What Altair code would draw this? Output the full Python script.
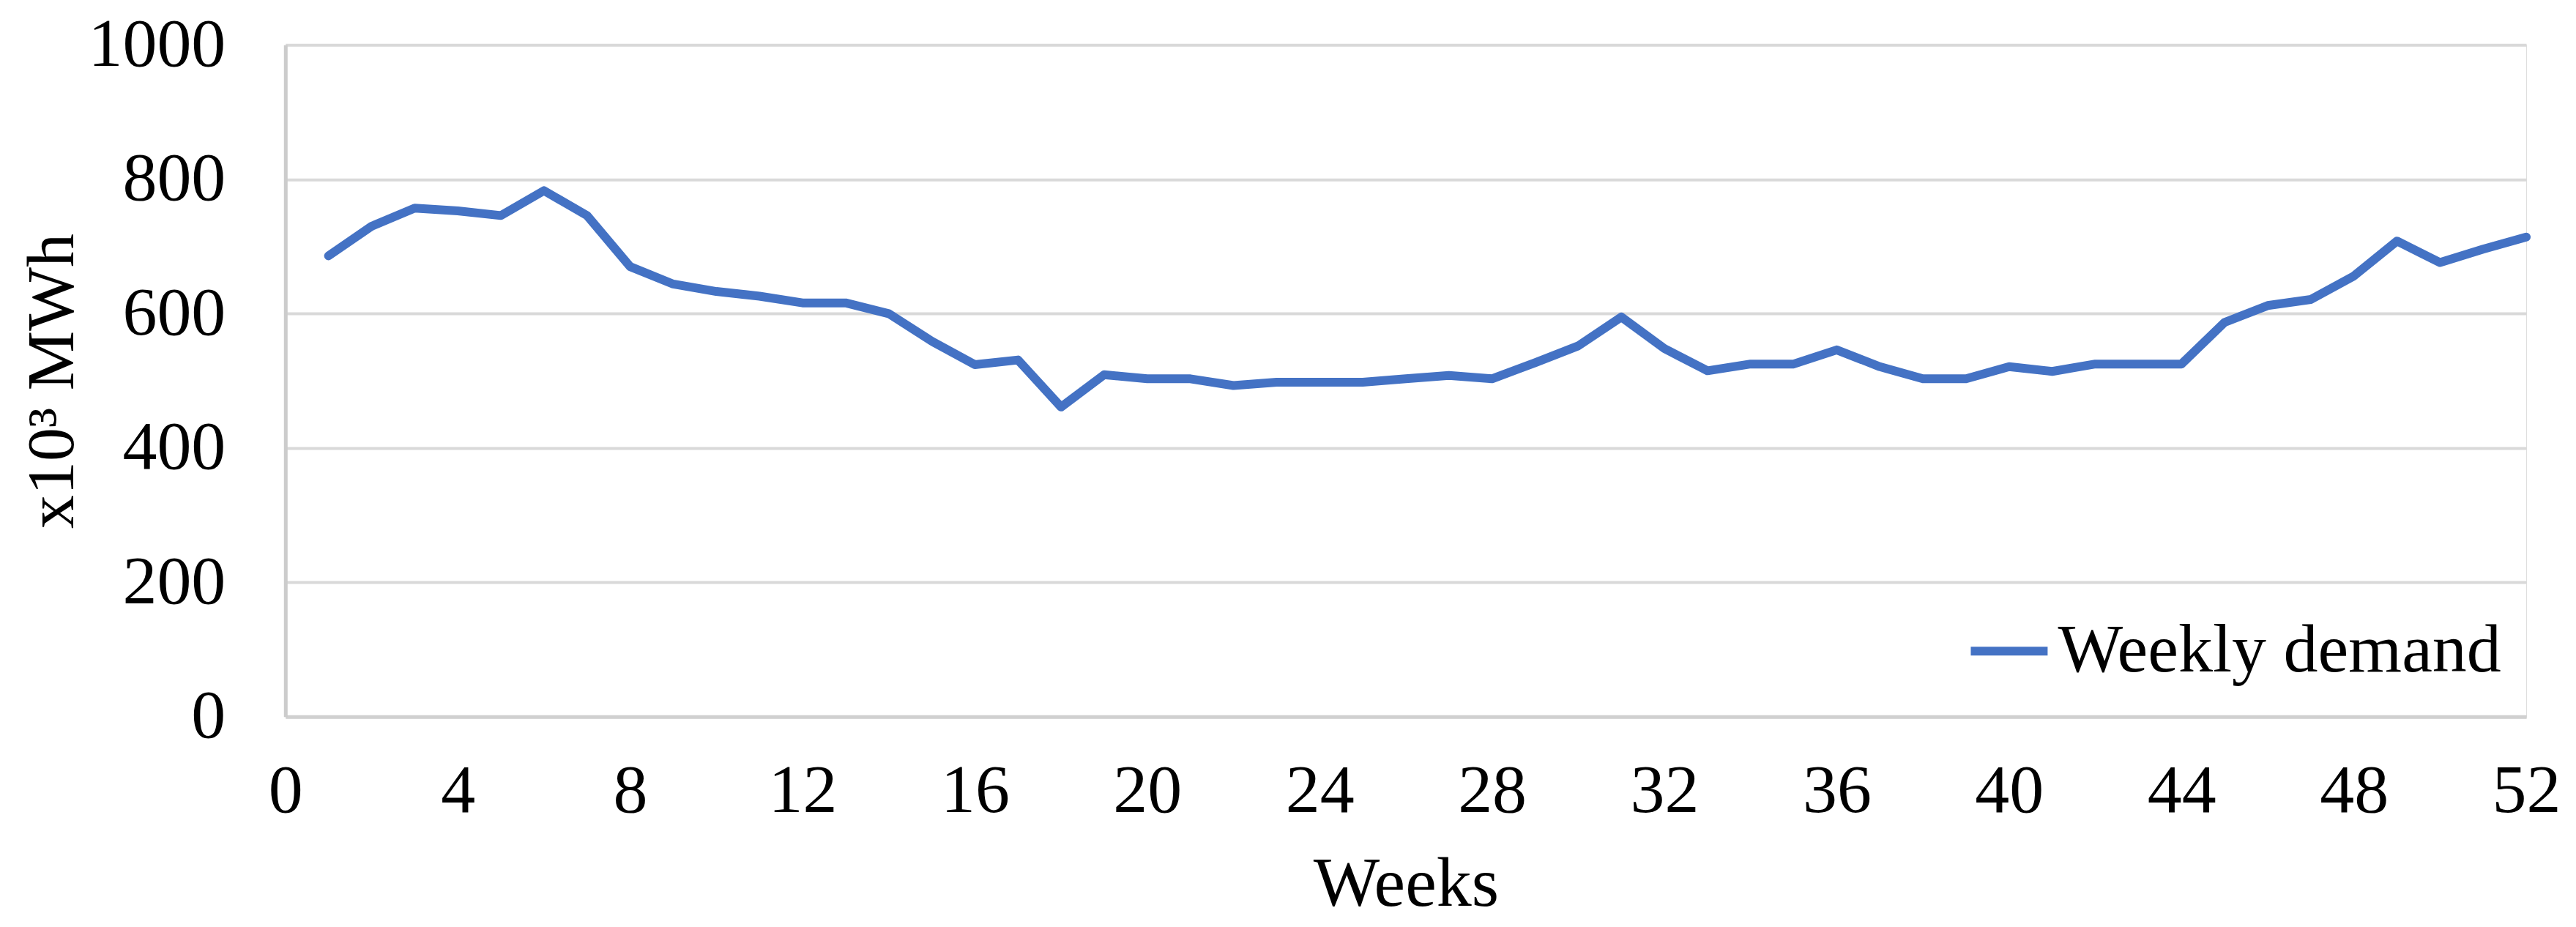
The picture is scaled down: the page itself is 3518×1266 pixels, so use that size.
import altair as alt
import pandas as pd

weeks = list(range(1, 53))
demand = [686, 730, 757, 753, 746, 783, 746, 670, 644, 633,
          626, 616, 616, 600, 559, 524, 531, 461, 509, 503,
          503, 493, 498, 498, 498, 503, 508, 503, 527, 552,
          595, 548, 515, 525, 525, 546, 521, 503, 503, 521,
          514, 525, 525, 525, 587, 612, 621, 656, 708, 676,
          696, 714]
series_name = ["Weekly demand"] * len(weeks)
x_ticks = list(range(0, 53, 4))
y_ticks = [0, 200, 400, 600, 800, 1000]

df = pd.DataFrame({"week": weeks, "demand": demand, "series": series_name})

FONT = "Liberation Serif"

chart = alt.Chart(df).mark_line(strokeWidth=12, strokeCap="round", strokeJoin="round").encode(
    x=alt.X("week:Q",
            scale=alt.Scale(domain=[0, 52], nice=False, zero=False),
            axis=alt.Axis(values=x_ticks, title="Weeks", grid=False, ticks=False, tickSize=0,
                          labelPadding=130, labelBaseline="alphabetic", format="d",
                          labelFontSize=94, labelFont=FONT, labelColor="#000000",
                          titleFont=FONT, titleFontSize=96, titleFontWeight="normal",
                          titleColor="#000000", titleBaseline="alphabetic", titleY=258,
                          domainColor="#d0d0d0", domainWidth=5, labelFlush=False,
                          labelLimit=1000)),
    y=alt.Y("demand:Q",
            scale=alt.Scale(domain=[0, 1000], nice=False),
            axis=alt.Axis(values=y_ticks, title="x10³ MWh", grid=True, gridColor="#d9d9d9",
                          gridWidth=4, ticks=False, tickSize=0, labelPadding=82, format="d",
                          labelFontSize=94, labelFont=FONT, labelColor="#000000",
                          labelLimit=1000,
                          titleFont=FONT, titleFontSize=92, titleFontWeight="normal",
                          titleColor="#000000", titleBaseline="alphabetic", titleX=-290,
                          domainColor="#cccccc", domainWidth=5)),
    color=alt.Color("series:N",
                    scale=alt.Scale(range=["#4472C4"]),
                    legend=alt.Legend(title=None, orient="none", legendX=2297, legendY=770,
                                      symbolType="stroke", symbolSize=11025,
                                      symbolStrokeWidth=12, labelFontSize=94,
                                      labelFont=FONT, labelColor="#000000", labelOffset=8,
                                      labelLimit=1000)),
).properties(
    width=3062,
    height=918,
    padding={"left": 382, "top": 53, "right": 60, "bottom": 285},
    autosize=alt.AutoSizeParams(type="none"),
).configure_view(stroke=None).configure(background="#ffffff")

chart.save("out.html", embed_options={"renderer": "svg", "actions": False})
